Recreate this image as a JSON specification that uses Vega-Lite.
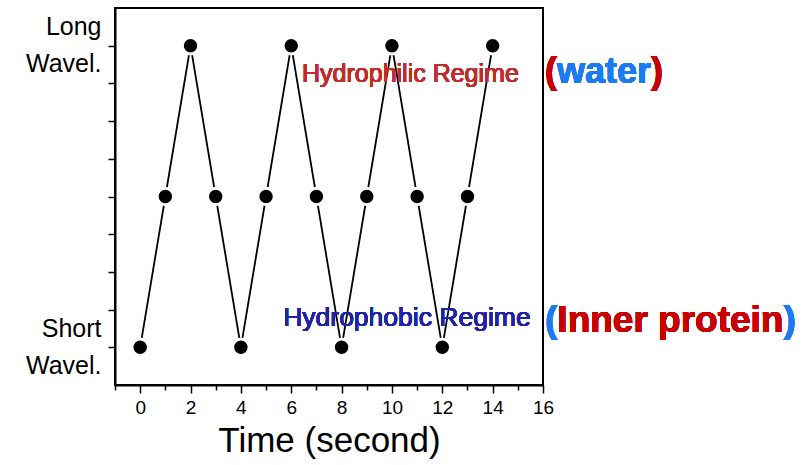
{
  "$schema": "https://vega.github.io/schema/vega-lite/v6.json",
  "width": 428,
  "height": 377,
  "autosize": {"type": "none"},
  "padding": {"left": 115, "top": 8, "right": 264, "bottom": 80},
  "background": "white",
  "config": {
    "view": {"stroke": "black", "strokeWidth": 2},
    "font": "Liberation Sans",
    "axis": {
      "grid": false,
      "domainColor": "black",
      "domainWidth": 2,
      "tickColor": "black",
      "tickWidth": 1.5,
      "labelColor": "black",
      "titleColor": "black",
      "labelFont": "Liberation Sans",
      "titleFont": "Liberation Sans"
    }
  },
  "data": {
    "values": [
      {"time": 0, "level": 0},
      {"time": 1, "level": 1},
      {"time": 2, "level": 2},
      {"time": 3, "level": 1},
      {"time": 4, "level": 0},
      {"time": 5, "level": 1},
      {"time": 6, "level": 2},
      {"time": 7, "level": 1},
      {"time": 8, "level": 0},
      {"time": 9, "level": 1},
      {"time": 10, "level": 2},
      {"time": 11, "level": 1},
      {"time": 12, "level": 0},
      {"time": 13, "level": 1},
      {"time": 14, "level": 2}
    ]
  },
  "encoding": {
    "x": {
      "field": "time",
      "type": "quantitative",
      "scale": {"domain": [-1, 16], "nice": false, "zero": false},
      "axis": {
        "values": [-1, 0, 1, 2, 3, 4, 5, 6, 7, 8, 9, 10, 11, 12, 13, 14, 15, 16],
        "labelExpr": "datum.value >= 0 && datum.value % 2 == 0 ? datum.label : ''",
        "tickSize": {"condition": {"test": "datum.value % 2 == 0", "value": 8}, "value": 5},
        "labelFontSize": 19,
        "labelPadding": 5,
        "labelFlush": false,
        "labelOverlap": false,
        "title": "Time (second)",
        "titleFontSize": 35,
        "titleFontWeight": "normal",
        "titlePadding": 6
      }
    },
    "y": {
      "field": "level",
      "type": "quantitative",
      "scale": {"domain": [-0.25, 2.25], "nice": false, "zero": false},
      "axis": {
        "values": [0, 0.25, 0.5, 0.75, 1, 1.25, 1.5, 1.75, 2],
        "labelExpr": "datum.value == 2 ? ['Long', 'Wavel.'] : datum.value == 0 ? ['Short', 'Wavel.'] : ''",
        "labelFontSize": 25,
        "labelLineHeight": 37,
        "labelBaseline": "middle",
        "labelOffset": -19,
        "tickSize": 7,
        "labelPadding": 7,
        "labelOverlap": false,
        "title": null
      }
    }
  },
  "layer": [
    {"mark": {"type": "line", "color": "black", "strokeWidth": 1.8}},
    {"mark": {"type": "circle", "color": "black", "opacity": 1, "stroke": "white", "strokeWidth": 3, "size": 270}},
    {
      "mark": {"type": "text", "align": "left", "baseline": "alphabetic", "fontSize": 25, "color": "#c42b2b"},
      "encoding": {"x": {"datum": 6.43}, "y": {"datum": 1.762}, "text": {"value": "Hydrophilic Regime"}}
    },
    {
      "mark": {"type": "text", "align": "left", "baseline": "alphabetic", "fontSize": 26.5, "color": "#2222a6"},
      "encoding": {"x": {"datum": 5.68}, "y": {"datum": 0.139}, "text": {"value": "Hydrophobic Regime"}}
    },
    {
      "mark": {"type": "text", "align": "left", "baseline": "alphabetic", "fontSize": 36, "fontWeight": "bold", "color": "#c80000"},
      "encoding": {"x": {"datum": 16.08}, "y": {"datum": 1.755}, "text": {"value": "("}}
    },
    {
      "mark": {"type": "text", "align": "left", "baseline": "alphabetic", "fontSize": 36, "fontWeight": "bold", "color": "#1a7cf0"},
      "encoding": {"x": {"datum": 16.555}, "y": {"datum": 1.755}, "text": {"value": "water"}}
    },
    {
      "mark": {"type": "text", "align": "left", "baseline": "alphabetic", "fontSize": 36, "fontWeight": "bold", "color": "#c80000"},
      "encoding": {"x": {"datum": 20.29}, "y": {"datum": 1.755}, "text": {"value": ")"}}
    },
    {
      "mark": {"type": "text", "align": "left", "baseline": "alphabetic", "fontSize": 37, "fontWeight": "bold", "color": "#1a7cf0"},
      "encoding": {"x": {"datum": 16.08}, "y": {"datum": 0.099}, "text": {"value": "("}}
    },
    {
      "mark": {"type": "text", "align": "left", "baseline": "alphabetic", "fontSize": 37, "fontWeight": "bold", "color": "#c80000"},
      "encoding": {"x": {"datum": 16.57}, "y": {"datum": 0.099}, "text": {"value": "Inner protein"}}
    },
    {
      "mark": {"type": "text", "align": "left", "baseline": "alphabetic", "fontSize": 37, "fontWeight": "bold", "color": "#1a7cf0"},
      "encoding": {"x": {"datum": 25.55}, "y": {"datum": 0.099}, "text": {"value": ")"}}
    }
  ]
}
